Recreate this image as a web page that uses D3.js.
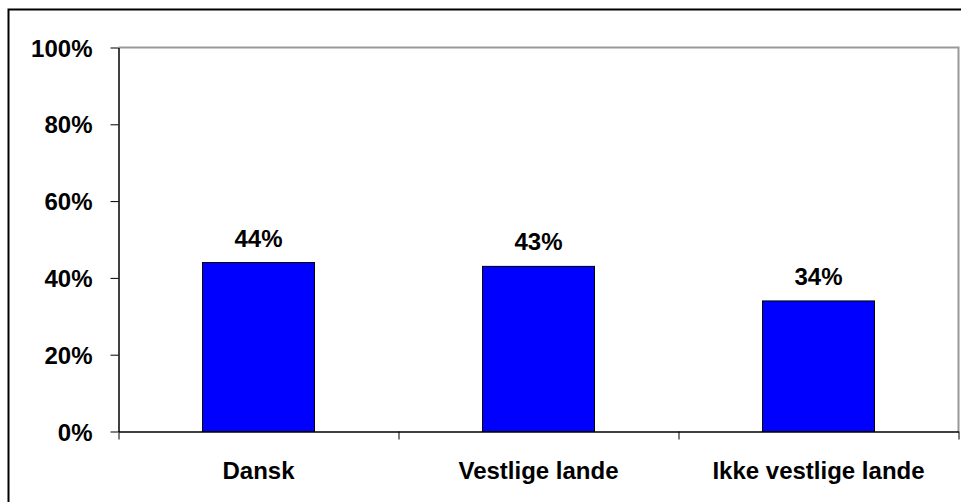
<!DOCTYPE html>
<html>
<head>
<meta charset="utf-8">
<script src="https://cdn.jsdelivr.net/npm/d3@7"></script>
<style>
    body { margin: 0; background: #fff; }
    svg text { font-family: "Liberation Sans", Arial, sans-serif; font-weight: bold; fill: #000; }
</style>
</head>
<body>
<div id="chart"></div>
<script>
// Chart data
const categories = ["Dansk", "Vestlige lande", "Ikke vestlige lande"];
const values = [0.44, 0.43, 0.34];
const yTicks = [0, 0.2, 0.4, 0.6, 0.8, 1.0];

const W = 961, H = 502;
const margin = { top: 47.5, right: 2.5, bottom: 70.5, left: 118.5 };
const width = W - margin.left - margin.right;
const height = H - margin.top - margin.bottom;
const fontSize = "24px";

const root = d3.select("#chart")
    .append("svg")
    .attr("width", W)
    .attr("height", H);

// Outer chart border (runs off the right and bottom edges)
root.append("rect")
    .attr("x", 8.5)
    .attr("y", 9.5)
    .attr("width", W + 10)
    .attr("height", H + 10)
    .attr("fill", "none")
    .attr("stroke", "#000")
    .attr("stroke-width", 2);

const svg = root.append("g")
    .attr("transform", `translate(${margin.left},${margin.top})`);

const x = d3.scaleBand()
    .domain(categories)
    .range([0, width])
    .paddingInner(0.6)
    .paddingOuter(0.3);

const y = d3.scaleLinear()
    .domain([0, 1])
    .range([height, 0]);

// Plot area border: gray top and right
svg.append("path")
    .attr("d", `M0,0H${width}V${height}`)
    .attr("fill", "none")
    .attr("stroke", "#999")
    .attr("stroke-width", 2);

// Bars
svg.selectAll(".bar")
    .data(values)
    .enter().append("rect")
    .attr("class", "bar")
    .attr("x", (d, i) => x(categories[i]))
    .attr("y", d => y(d))
    .attr("width", x.bandwidth())
    .attr("height", d => height - y(d))
    .attr("fill", "#0000ff")
    .attr("stroke", "#000")
    .attr("stroke-width", 1);

// Value labels
svg.selectAll(".val")
    .data(values)
    .enter().append("text")
    .attr("class", "val")
    .attr("x", (d, i) => x(categories[i]) + x.bandwidth() / 2)
    .attr("y", d => y(d) - 16)
    .attr("text-anchor", "middle")
    .style("font-size", fontSize)
    .text(d => Math.round(d * 100) + "%");

// Y axis
const yAxis = svg.append("g")
    .call(d3.axisLeft(y).tickValues(yTicks).tickFormat(d3.format(".0%")).tickSize(8).tickSizeOuter(0));
yAxis.attr("font-family", null).attr("font-size", null);
yAxis.select(".domain").attr("stroke", "#000").attr("stroke-width", 1.5);
yAxis.selectAll(".tick line").attr("stroke", "#000");
yAxis.selectAll("text")
    .attr("x", -26)
    .attr("dy", "0.36em")
    .style("font-size", fontSize);

// X axis with ticks at category boundaries
const bounds = d3.range(categories.length + 1).map(i => i * width / categories.length);
const xb = d3.scaleLinear().domain([0, width]).range([0, width]);
const xAxis = svg.append("g")
    .attr("transform", `translate(0,${height})`)
    .call(d3.axisBottom(xb).tickValues(bounds).tickFormat("").tickSize(8).tickSizeOuter(0));
xAxis.select(".domain").attr("stroke", "#000").attr("stroke-width", 1.5);
xAxis.selectAll(".tick line").attr("stroke", "#000");

// Category labels
svg.selectAll(".cat")
    .data(categories)
    .enter().append("text")
    .attr("class", "cat")
    .attr("x", d => x(d) + x.bandwidth() / 2)
    .attr("y", height + 47.5)
    .attr("text-anchor", "middle")
    .style("font-size", fontSize)
    .text(d => d);
</script>
</body>
</html>
